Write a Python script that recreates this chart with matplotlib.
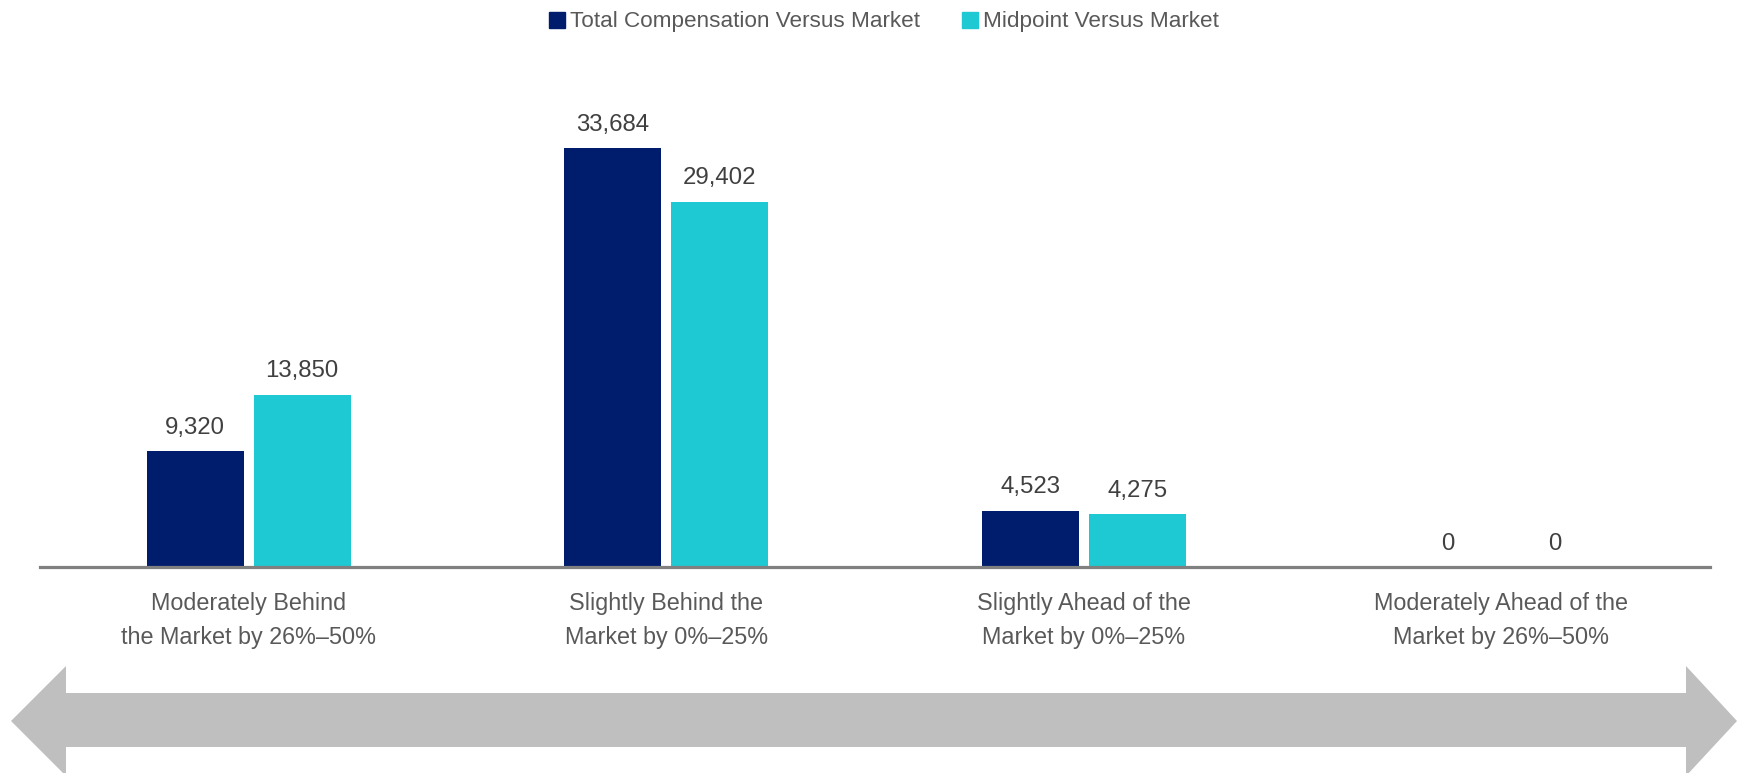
import matplotlib
matplotlib.use("Agg")
import matplotlib.pyplot as plt
import numpy as np
from matplotlib.patches import Polygon, Patch

categories = ["Moderately Behind\nthe Market by 26%\u201350%",
              "Slightly Behind the\nMarket by 0%\u201325%",
              "Slightly Ahead of the\nMarket by 0%\u201325%",
              "Moderately Ahead of the\nMarket by 26%\u201350%"]
series_names = ["Total Compensation Versus Market", "Midpoint Versus Market"]
total_comp = [9320, 33684, 4523, 0]
midpoint = [13850, 29402, 4275, 0]

navy = "#001C6C"
cyan = "#1FC9D3"
grey_txt = "#595959"

plt.rcParams["font.family"] = ["Liberation Sans", "DejaVu Sans"]

W, H = 1737, 773
fig = plt.figure(figsize=(W / 100, H / 100), dpi=100)
ax = fig.add_axes([40 / W, 206 / H, 1670 / W, 467 / H])

x = np.arange(len(categories))
bw = 0.232
off = 0.128
b1 = ax.bar(x - off, total_comp, bw, color=navy, zorder=2)
b2 = ax.bar(x + off, midpoint, bw, color=cyan, zorder=2)

for bars in (b1, b2):
    for r in bars:
        ax.annotate(f"{int(r.get_height()):,}",
                    (r.get_x() + r.get_width() / 2, r.get_height()),
                    xytext=(0, 12.5), textcoords="offset points",
                    ha="center", va="baseline", fontsize=17.3, color="#404040")

ax.set_xlim(-0.5, 3.5)
ax.set_ylim(0, 37570)
ax.set_xticks(x)
ax.set_xticklabels(categories, fontsize=16.8, color=grey_txt, linespacing=1.62)
ax.tick_params(axis="x", length=0, pad=18)
ax.set_yticks([])
for s in ["top", "left", "right"]:
    ax.spines[s].set_visible(False)
ax.spines["bottom"].set_color("#808080")
ax.spines["bottom"].set_linewidth(2.3)
ax.spines["bottom"].set_zorder(3)

handles = [Patch(color=navy), Patch(color=cyan)]
fig.legend(handles, series_names, loc="center", bbox_to_anchor=(884 / W, 1 - 22 / H),
           ncol=2, frameon=False, fontsize=16.2, labelcolor=grey_txt,
           handlelength=0.7, handleheight=0.7, handletextpad=0.2, columnspacing=1.9,
           borderpad=0, borderaxespad=0)

# double-headed grey arrow along the bottom
pts = [(11, 721), (66, 666), (66, 693), (1686, 693), (1686, 666), (1737, 721),
       (1686, 776), (1686, 747), (66, 747), (66, 776)]
fig.patches.append(Polygon([(px / W, 1 - py / H) for px, py in pts], closed=True,
                           transform=fig.transFigure, color="#BFBFBF", lw=0))

fig.savefig("out.png", dpi=100)
